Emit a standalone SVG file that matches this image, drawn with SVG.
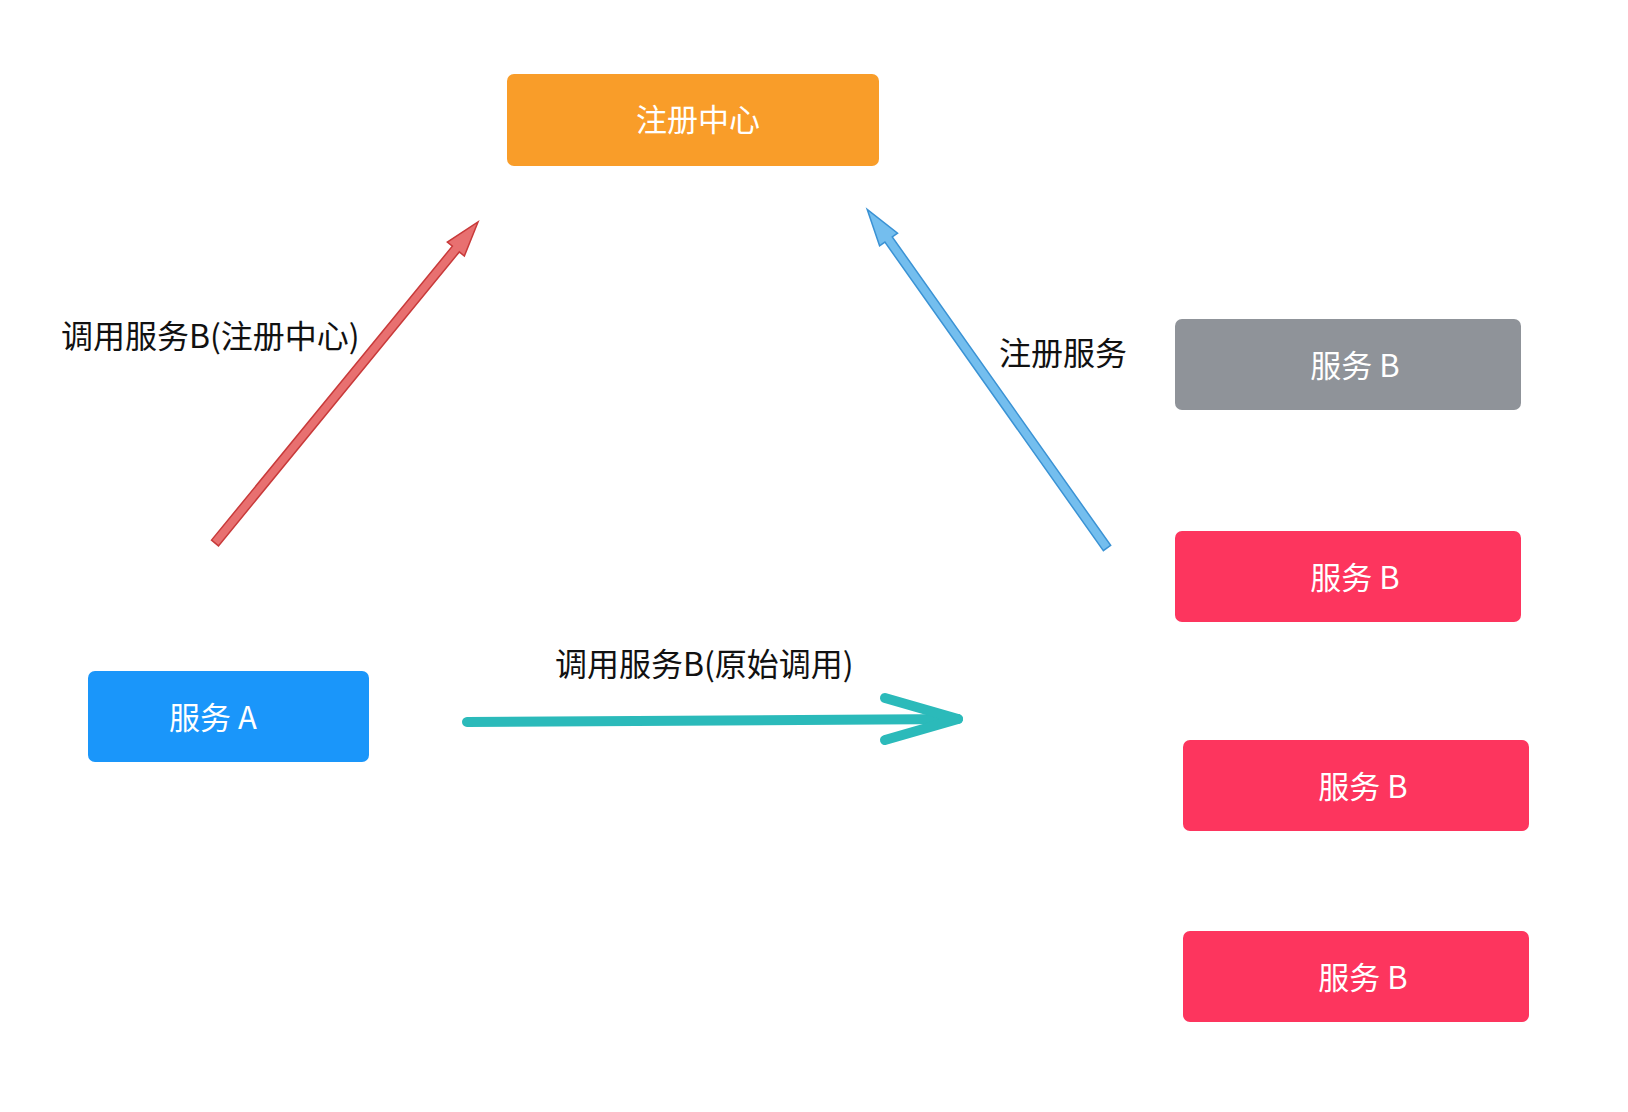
<svg xmlns="http://www.w3.org/2000/svg" width="1628" height="1112" viewBox="0 0 1628 1112">
  <style>
    text { font-family: "Noto Sans CJK SC", "Noto Sans", sans-serif; }
    .box-text { fill: #ffffff; text-anchor: middle; font-size: 31px; }
    .label { fill: #111111; font-size: 32px; }
  </style>
  <rect width="1628" height="1112" fill="#ffffff"/>
  <g id="connectors">
    <path id="edge-a-registry" d="M0,-4.5 L380,-4.5 L380,-11 L415,0 L380,11 L380,4.5 L0,4.5 Z" transform="translate(215,543) rotate(-50.67)" fill="#E87070" stroke="#C83A3A" stroke-width="1.5"/>
    <path id="edge-b-registry" d="M0,-4.5 L378,-4.5 L378,-11 L415,0 L378,11 L378,4.5 L0,4.5 Z" transform="translate(1107,548) rotate(-125.3)" fill="#74BEEE" stroke="#3A92D4" stroke-width="1.5"/>
    <g id="edge-a-b" fill="none" stroke="#2BBABA" stroke-width="10" stroke-linecap="round" stroke-linejoin="round">
      <path d="M467,722 L958,719"/>
      <path d="M885,698 L958,719 L885,740"/>
    </g>
    <text class="label" x="61" y="348">调用服务B(注册中心)</text>
    <text class="label" x="999" y="365">注册服务</text>
    <text class="label" x="555" y="676">调用服务B(原始调用)</text>
  </g>
  <g id="registry">
    <rect x="507" y="74" width="372" height="92" rx="7" fill="#F99D29"/>
    <text class="box-text" x="698" y="131">注册中心</text>
  </g>
  <g id="service-a">
    <rect x="88" y="671" width="281" height="91" rx="7" fill="#1A96FA"/>
    <text class="box-text" x="213" y="729">服务 A</text>
  </g>
  <g id="service-b-gray">
    <rect x="1175" y="319" width="346" height="91" rx="7" fill="#8F9399"/>
    <text class="box-text" x="1355" y="377">服务 B</text>
  </g>
  <g id="service-b-1">
    <rect x="1175" y="531" width="346" height="91" rx="7" fill="#FD355E"/>
    <text class="box-text" x="1355" y="589">服务 B</text>
  </g>
  <g id="service-b-2">
    <rect x="1183" y="740" width="346" height="91" rx="7" fill="#FD355E"/>
    <text class="box-text" x="1363" y="798">服务 B</text>
  </g>
  <g id="service-b-3">
    <rect x="1183" y="931" width="346" height="91" rx="7" fill="#FD355E"/>
    <text class="box-text" x="1363" y="989">服务 B</text>
  </g>
</svg>
